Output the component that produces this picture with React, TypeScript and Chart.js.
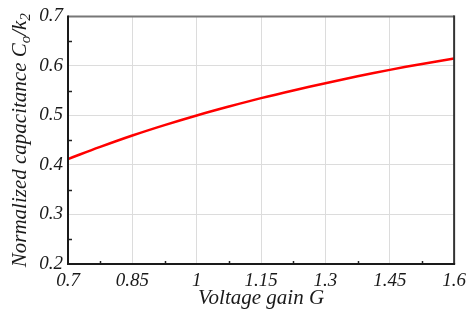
import React, { useEffect, useRef } from "react";
import { Chart, registerables } from "chart.js";

Chart.register(...registerables);

// Data
const gainG = [0.7, 0.775, 0.85, 0.925, 1.0, 1.075, 1.15, 1.225, 1.3, 1.375, 1.45, 1.525, 1.6];
const normCap = [0.412, 0.4365, 0.4595, 0.4805, 0.5, 0.518, 0.535, 0.5505, 0.565, 0.579, 0.592, 0.604, 0.615];

const xTicks = [0.7, 0.85, 1, 1.15, 1.3, 1.45, 1.6];
const xTickLabels = ["0.7", "0.85", "1", "1.15", "1.3", "1.45", "1.6"];
const yTicks = [0.2, 0.3, 0.4, 0.5, 0.6, 0.7];
const yTickLabels = ["0.2", "0.3", "0.4", "0.5", "0.6", "0.7"];
const xMinorTicks = [0.775, 0.925, 1.075, 1.225, 1.375, 1.525];
const yMinorTicks = [0.25, 0.35, 0.45, 0.55, 0.65];

const xTitle = "Voltage gain G";
const yTitleParts: { t: string; sub?: boolean }[] = [
  { t: "Normalized capacitance C" },
  { t: "o", sub: true },
  { t: "/k" },
  { t: "2", sub: true },
];

const FAMILY = "'Liberation Serif', 'Times New Roman', serif";
const TICK_SIZE = 19;
const TITLE_SIZE = 21;

const framePlugin = {
  id: "frameAndTitles",
  afterDraw(chart: any) {
    const { ctx, chartArea: a, scales } = chart;
    const xs = scales.x;
    const ys = scales.y;
    ctx.save();
    const line = (x1: number, y1: number, x2: number, y2: number) => {
      ctx.beginPath();
      ctx.moveTo(x1, y1);
      ctx.lineTo(x2, y2);
      ctx.stroke();
    };
    // minor ticks
    ctx.strokeStyle = "#222";
    ctx.lineWidth = 1.5;
    for (const v of xMinorTicks) {
      const px = Math.round(xs.getPixelForValue(v)) + 0.5;
      line(px, a.bottom, px, a.bottom - 3);
    }
    for (const v of yMinorTicks) {
      const py = Math.round(ys.getPixelForValue(v)) + 0.5;
      line(a.left, py, a.left + 4, py);
    }
    // frame
    ctx.lineWidth = 2;
    ctx.strokeStyle = "#777";
    line(a.left, a.top, a.right, a.top);
    ctx.strokeStyle = "#333";
    line(a.right, a.top - 1, a.right, a.bottom);
    ctx.strokeStyle = "#1a1a1a";
    line(a.left, a.top - 1, a.left, a.bottom + 1);
    line(a.left - 1, a.bottom, a.right + 1, a.bottom);

    // x title
    ctx.fillStyle = "#1a1a1a";
    ctx.font = `italic ${TITLE_SIZE}px ${FAMILY}`;
    ctx.textAlign = "center";
    ctx.textBaseline = "alphabetic";
    ctx.fillText(xTitle, (a.left + a.right) / 2, 304);

    // y title with subscripts
    const mainFont = `italic ${TITLE_SIZE}px ${FAMILY}`;
    const subFont = `italic ${Math.round(TITLE_SIZE * 0.7)}px ${FAMILY}`;
    let total = 0;
    const widths = yTitleParts.map((p) => {
      ctx.font = p.sub ? subFont : mainFont;
      const w = ctx.measureText(p.t).width;
      total += w;
      return w;
    });
    ctx.translate(26, (a.top + a.bottom) / 2);
    ctx.rotate(-Math.PI / 2);
    ctx.textAlign = "left";
    let cx = -total / 2;
    yTitleParts.forEach((p, i) => {
      ctx.font = p.sub ? subFont : mainFont;
      ctx.fillText(p.t, cx, p.sub ? 4 : 0);
      cx += widths[i];
    });
    ctx.restore();
  },
};

export default function App() {
  const ref = useRef<HTMLCanvasElement | null>(null);
  useEffect(() => {
    if (!ref.current) return;
    const chart = new Chart(ref.current, {
      type: "line",
      data: {
        datasets: [
          {
            data: gainG.map((g, i) => ({ x: g, y: normCap[i] })),
            borderColor: "#ff0000",
            borderWidth: 2.5,
            pointRadius: 0,
            tension: 0.4,
            fill: false,
          },
        ],
      },
      options: {
        responsive: false,
        animation: false,
        events: [],
        layout: { padding: { left: 0, right: 12, top: 14, bottom: 0 } },
        plugins: { legend: { display: false }, tooltip: { enabled: false } },
        scales: {
          x: {
            type: "linear",
            min: 0.7,
            max: 1.6,
            afterBuildTicks: (s: any) => {
              s.ticks = xTicks.map((v) => ({ value: v }));
            },
            afterFit: (s: any) => {
              s.height = 56;
            },
            ticks: {
              autoSkip: false,
              maxRotation: 0,
              padding: 6,
              color: "#1a1a1a",
              font: { family: FAMILY, size: TICK_SIZE, style: "italic" },
              callback: (v: any) => {
                const i = xTicks.findIndex((t) => Math.abs(t - Number(v)) < 1e-6);
                return i >= 0 ? xTickLabels[i] : "";
              },
            },
            grid: { color: "#dcdcdc", lineWidth: 1, drawTicks: false },
            border: { display: false },
          },
          y: {
            type: "linear",
            min: 0.2,
            max: 0.7,
            afterBuildTicks: (s: any) => {
              s.ticks = yTicks.map((v) => ({ value: v }));
            },
            afterFit: (s: any) => {
              s.width = 68;
            },
            ticks: {
              autoSkip: false,
              padding: 5,
              color: "#1a1a1a",
              font: { family: FAMILY, size: TICK_SIZE, style: "italic" },
              callback: (v: any) => {
                const i = yTicks.findIndex((t) => Math.abs(t - Number(v)) < 1e-6);
                return i >= 0 ? yTickLabels[i] : "";
              },
            },
            grid: { color: "#dcdcdc", lineWidth: 1, drawTicks: false },
            border: { display: false },
          },
        },
      },
      plugins: [framePlugin],
    } as any);
    return () => chart.destroy();
  }, []);
  return (
    <div style={{ position: "fixed", left: 0, top: 0, width: 472, height: 320, background: "#fff" }}>
      <canvas ref={ref} width={472} height={320} style={{ display: "block" }} />
    </div>
  );
}
